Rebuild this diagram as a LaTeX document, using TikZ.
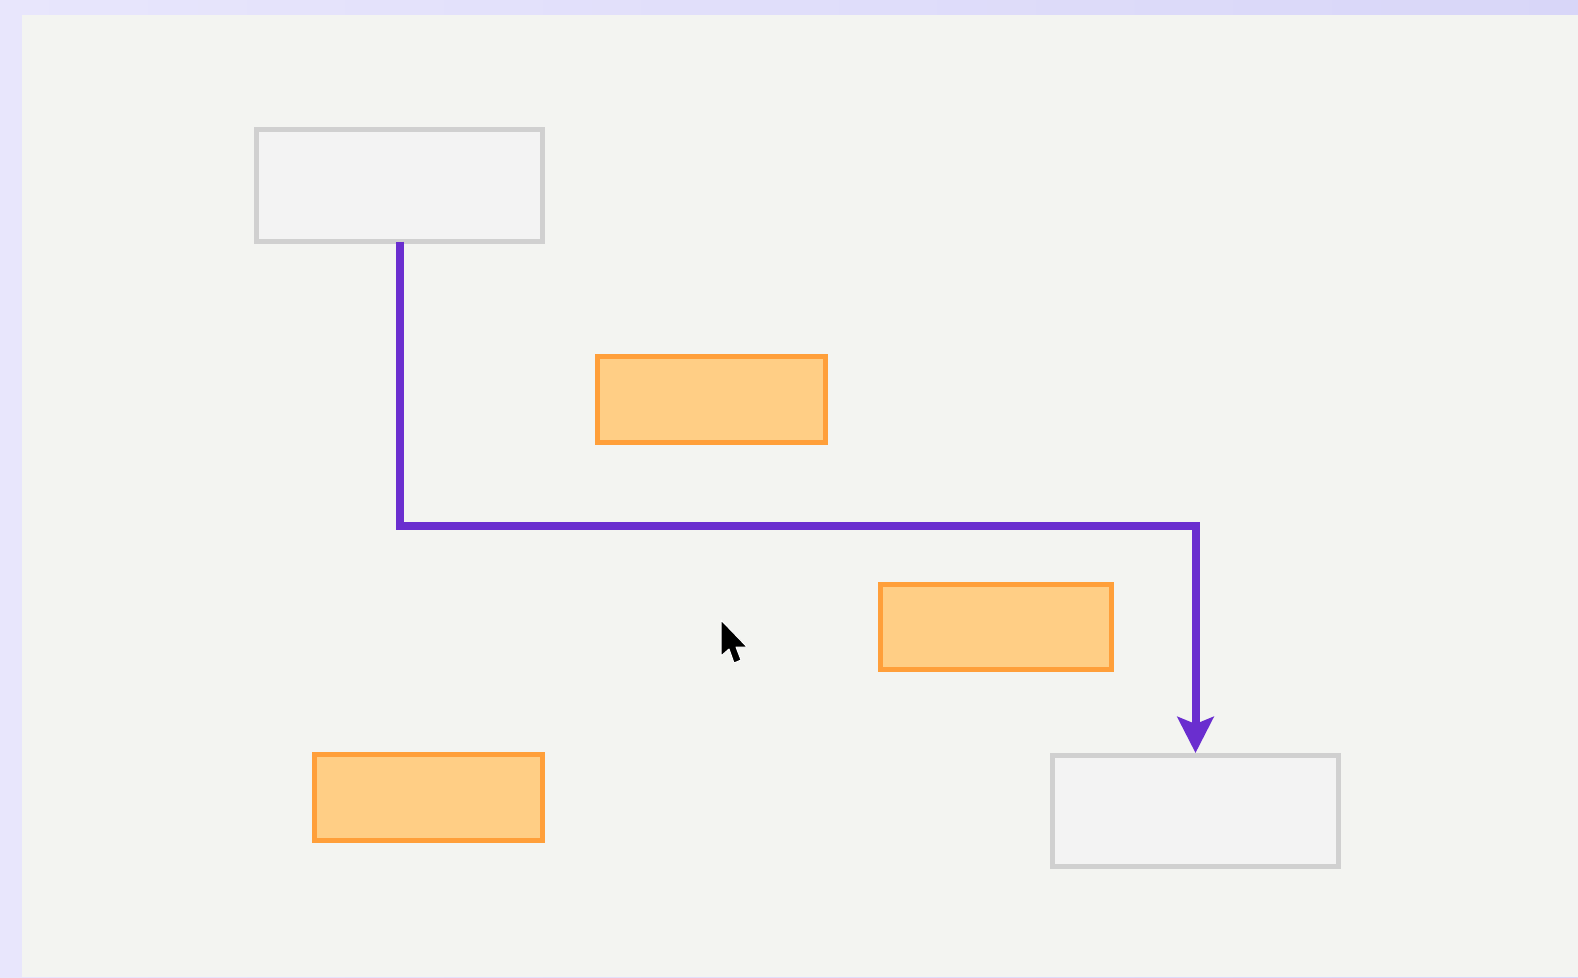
\documentclass[tikz,border=0pt]{standalone}
\usetikzlibrary{arrows.meta}
\definecolor{lavL}{HTML}{E8E6FC}
\definecolor{lavR}{HTML}{D8D6F8}
\definecolor{panel}{HTML}{F3F4F1}
\definecolor{grayline}{HTML}{D0D0D0}
\definecolor{grayfill}{HTML}{F3F3F3}
\definecolor{orline}{HTML}{FF9F3A}
\definecolor{orfill}{HTML}{FFCE85}
\definecolor{purp}{HTML}{6A2ECF}
\tikzset{
  graybox/.style={draw=grayline, fill=grayfill, line width=5.5pt, rectangle, inner sep=0pt, outer sep=0pt},
  orbox/.style={draw=orline, fill=orfill, line width=5.5pt, rectangle, inner sep=0pt, outer sep=0pt},
  conn/.style={draw=purp, line width=8pt, line join=miter, -{Stealth[length=36pt,width=36pt,inset=7pt]}}
}
\begin{document}
\begin{tikzpicture}[x=1pt,y=-1pt]
\useasboundingbox (0,0) rectangle (1578,977);
\shade[left color=lavL, right color=lavR] (0,0) rectangle (1578,977);
\fill[panel] (22,15) rectangle (1578,977);

\node[graybox, minimum width=286pt, minimum height=112pt] (t) at (399.5,185.5) {};
\node[graybox, minimum width=286pt, minimum height=111pt] (b) at (1195.5,811) {};
\node[orbox, minimum width=228pt, minimum height=86pt] (o1) at (711.5,399.5) {};
\node[orbox, minimum width=231pt, minimum height=85pt] (o2) at (996,627) {};
\node[orbox, minimum width=228pt, minimum height=86pt] (o3) at (428.5,797.5) {};

\coordinate (m) at (399.5,526);
\draw[conn, shorten >=2.5pt] (t.south) |- (m) -| (b.north);

% mouse cursor
\begin{scope}[shift={(721,620)}]
\filldraw[fill=black, draw=white, line width=1pt, line join=round]
  (0,0) -- (0,36) -- (8,29) -- (13,43) -- (20,40) -- (15,27) -- (26,27) -- cycle;
\end{scope}
\end{tikzpicture}
\end{document}
